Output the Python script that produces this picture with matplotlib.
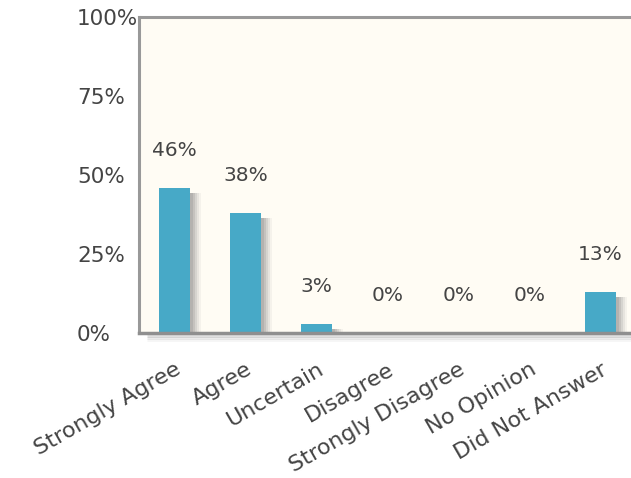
import matplotlib
matplotlib.use("Agg")
import matplotlib.pyplot as plt
from matplotlib.transforms import offset_copy

categories = ["Strongly Agree", "Agree", "Uncertain", "Disagree",
              "Strongly Disagree", "No Opinion", "Did Not Answer"]
values = [46, 38, 3, 0, 0, 0, 13]
labels = ["46%", "38%", "3%", "0%", "0%", "0%", "13%"]
yticks = [0, 25, 50, 75, 100]
yticklabels = ["0%", "25%", "50%", "75%", "100%"]

W, H = 631, 478
fig = plt.figure(figsize=(W / 100, H / 100), dpi=100)
ax = fig.add_axes([139 / W, 145 / H, 497 / W, 316 / H])
ax.set_facecolor("#FFFCF4")

bar_color = "#47A9C7"
text_color = "#444444"
fs = 14.5

x = list(range(len(categories)))
# soft shadow layers
for dx, a in [(3, 0.16), (5, 0.14), (7, 0.12), (9, 0.09), (11, 0.06)]:
    tr = offset_copy(ax.transData, fig=fig, x=dx, y=-5, units="dots")
    ax.bar(x, values, width=0.44, color="#606060", alpha=a, transform=tr,
           zorder=2, linewidth=0)
ax.bar(x, values, width=0.44, color=bar_color, zorder=3, linewidth=0)

# shadow under the baseline
for dy, a in [(-3, 0.25), (-5, 0.15), (-7, 0.08)]:
    tr = offset_copy(ax.transAxes, fig=fig, x=8, y=dy, units="dots")
    ax.plot([0, 1], [0, 0], color="#808080", alpha=a, lw=2, transform=tr,
            clip_on=False, zorder=1, solid_capstyle="butt")

for xi, v, lab in zip(x, values, labels):
    ax.annotate(lab, (xi, v), xytext=(0, 27), textcoords="offset points",
                ha="center", va="center", fontsize=fs, color=text_color,
                zorder=5)

ax.set_xlim(-0.5, 6.5)
ax.set_ylim(0, 100)
ax.set_yticks(yticks)
ax.set_yticklabels(yticklabels)
ax.set_xticks(x)
ax.set_xticklabels(categories, rotation=30, ha="right", rotation_mode="anchor")
ax.tick_params(axis="both", length=0, labelcolor=text_color)
ax.tick_params(axis="y", pad=62 * 0.72, labelsize=15.5)
for t in ax.get_yticklabels():
    t.set_ha("left")
ax.tick_params(axis="x", pad=19, labelsize=16)

ax.spines["right"].set_visible(False)
for s in ["left", "top"]:
    ax.spines[s].set_color("#999999")
    ax.spines[s].set_linewidth(2.2)
ax.spines["bottom"].set_color("#8f8f8f")
ax.spines["bottom"].set_linewidth(2.5)
ax.spines["bottom"].set_zorder(6)

fig.savefig("out.png", dpi=100)
